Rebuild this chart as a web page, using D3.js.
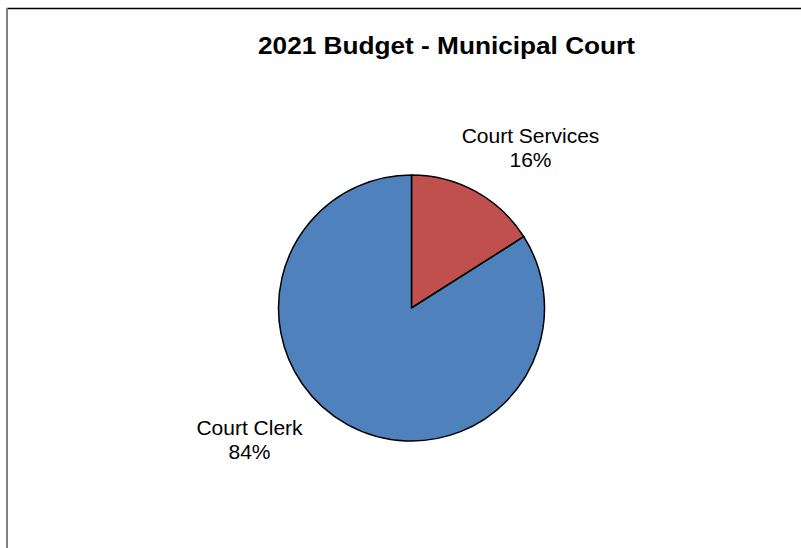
<!DOCTYPE html>
<html><head><meta charset="utf-8">
<script src="https://cdn.jsdelivr.net/npm/d3@7"></script>
<style>body{margin:0;background:#fff}svg{display:block}</style>
</head><body>
<script>
const title = "2021 Budget - Municipal Court";
const categories = ["Court Services", "Court Clerk"];
const values = [16, 84];
const colors = ["#C0504D", "#4F81BD"];

const W = 801, H = 548;
const svg = d3.select("body").append("svg").attr("width", W).attr("height", H);

// chart frame
svg.append("line").attr("x1", 7).attr("x2", W).attr("y1", 8.5).attr("y2", 8.5)
  .attr("stroke", "#000").attr("stroke-width", 1.5);
svg.append("line").attr("x1", 7).attr("x2", 7).attr("y1", 8).attr("y2", H)
  .attr("stroke", "#808080").attr("stroke-width", 2);

svg.append("text").attr("x", 446.5).attr("y", 54)
  .attr("text-anchor", "middle")
  .style("font-family", "'Liberation Sans', Arial, sans-serif")
  .style("font-weight", "bold").style("font-size", "24px")
  .attr("textLength", 377).attr("lengthAdjust", "spacingAndGlyphs")
  .text(title);

const cx = 411.5, cy = 308, r = 133;
const pie = d3.pie().sort(null).value(d => d)(values);
const arc = d3.arc().innerRadius(0).outerRadius(r);
const g = svg.append("g").attr("transform", `translate(${cx},${cy})`);
g.selectAll("path").data(pie).join("path")
  .attr("d", arc)
  .attr("fill", (d, i) => colors[i])
  .attr("stroke", "#000").attr("stroke-width", 1.5).attr("stroke-linejoin", "round");

// labels: placed outside the slices
const labelOffsets = [[119, -172], [-162, 120]];
const lab = g.selectAll("text.lab").data(pie).join("text")
  .attr("class", "lab")
  .attr("text-anchor", "middle")
  .style("font-family", "'Liberation Sans', Arial, sans-serif")
  .style("font-size", "21px").attr("fill", "#000")
  .attr("transform", (d, i) => `translate(${labelOffsets[i][0]},${labelOffsets[i][1]})`);
lab.append("tspan").attr("x", 0).attr("y", 7).text((d, i) => categories[i]);
lab.append("tspan").attr("x", 0).attr("y", 31)
  .text(d => Math.round(d.data / d3.sum(values) * 100) + "%");
</script>
</body></html>
